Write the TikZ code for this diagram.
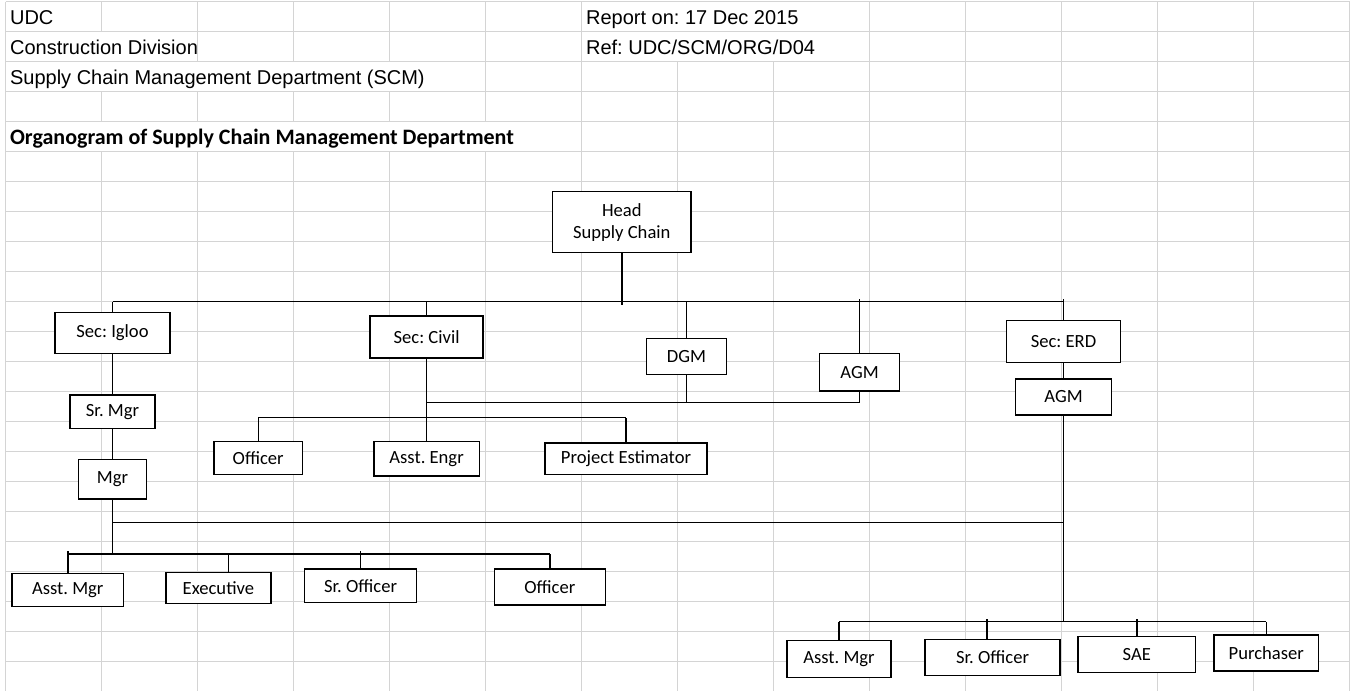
\documentclass[tikz,border=0pt]{standalone}
\usepackage{fontspec}
\setmainfont{Liberation Sans}
\newfontfamily\calibri{Carlito}
\usepackage{tikz}
\frenchspacing
\definecolor{colorGrid}{RGB}{212,212,212}
\tikzstyle{sheet}=[draw=colorGrid, line width=0.75pt]
\tikzstyle{cell}=[inner sep=0pt, anchor=base west, font=\fontsize{10}{12}\selectfont]
\tikzstyle{post}=[draw, line width=0.7pt, fill=white, inner sep=1pt, align=center, font=\calibri\fontsize{9.3}{11}\selectfont]
\tikzstyle{wire}=[line width=0.7pt]
\tikzstyle{poke}=[shorten >=-1.5pt]
\tikzset{boxwh/.style 2 args={minimum width=#1*0.5pt, minimum height=#2*0.5pt}}

\begin{document}
\begin{tikzpicture}[x=0.5pt,y=-0.5pt]
\useasboundingbox (0,0) rectangle (1354,691);

% sheet grid
\foreach \r in {0,...,22}
  \draw[sheet] (5.7,{1.7+30*\r}) -- (1349.7,{1.7+30*\r});
\foreach \c in {0,6,9,10,11,12,13,14}
  \draw[sheet] ({5.7+96*\c},1.7) -- ({5.7+96*\c},691);
\foreach \c in {1,2,3,4,5,7,8}
  \draw[sheet] ({5.7+96*\c},151.7) -- ({5.7+96*\c},691);
% cells that the header text does not cover
\foreach \c/\r in {1/0,1/3,2/0,2/1,2/3,3/0,3/1,3/3,4/0,4/1,4/3,5/0,5/1,5/2,5/3,7/2,7/3,7/4,8/2,8/3,8/4}
  \draw[sheet] ({5.7+96*\c},{1.7+30*\r}) -- ({5.7+96*\c},{31.7+30*\r});

% header
\node[cell] (udc) at (9.7,24.2) {UDC};
\node[cell] (division) at (9.7,54.2) {Construction Division};
\node[cell] (department) at (9.7,84.2) {Supply Chain Management Department (SCM)};
\node[cell, font=\calibri\bfseries\fontsize{11}{13}\selectfont] (title) at (9.7,144.2) {Organogram of Supply Chain Management Department};
\node[cell] (report) at (585.7,24.2) {Report on: 17 Dec 2015};
\node[cell] (ref) at (585.7,54.2) {Ref: UDC/SCM/ORG/D04};

% boxes
\node[post, boxwh={138.5}{61}] (head) at (621.8,222.2) {Head\\Supply Chain};
\node[post, boxwh={115}{40.6}] (secIgloo) at (112.5,333) {Sec: Igloo};
\node[post, boxwh={113}{42}] (secCivil) at (426.6,337) {Sec: Civil};
\node[post, boxwh={80}{36}] (dgm) at (686.5,356.4) {DGM};
\node[post, boxwh={80}{37.6}] (agmCivil) at (859.5,372.2) {AGM};
\node[post, boxwh={114}{41.7}] (secErd) at (1063.5,341.5) {Sec: ERD};
\node[post, boxwh={96.5}{36}] (agmErd) at (1063.5,397) {AGM};
\node[post, boxwh={85.3}{33.4}] (srMgr) at (112.5,411.7) {Sr. Mgr};
\node[post, boxwh={68}{39.6}] (mgr) at (112.5,479.2) {Mgr};
\node[post, boxwh={88.5}{32.7}] (officerCivil) at (258.2,458) {Officer};
\node[post, boxwh={105.3}{34.3}] (asstEngr) at (426.6,458.8) {Asst. Engr};
\node[post, boxwh={162}{31.4}] (projEst) at (626,458.7) {Project Estimator};
\node[post, boxwh={111.6}{33.3}] (asstMgrIg) at (67.8,590) {Asst. Mgr};
\node[post, boxwh={104.8}{31.3}] (exec) at (218.4,588) {Executive};
\node[post, boxwh={112.5}{33.4}] (srOffIg) at (360.5,585.7) {Sr. Officer};
\node[post, boxwh={111}{36}] (offIg) at (549.8,587) {Officer};
\node[post, boxwh={104}{36.7}] (asstMgrErd) at (839,659) {Asst. Mgr};
\node[post, boxwh={135}{36.3}] (srOffErd) at (992.5,657.5) {Sr. Officer};
\node[post, boxwh={117.6}{36}] (sae) at (1136.8,654.7) {SAE};
\node[post, boxwh={104.5}{36}] (purchaser) at (1266.3,653) {Purchaser};

% buses
\coordinate (topBus) at (0,301.7);
\coordinate (civBus) at (0,402.7);
\coordinate (engBus) at (0,417.7);
\coordinate (linkBus) at (0,522.7);
\coordinate (igBus) at (0,554);
\coordinate (erdBus) at (0,621.5);

% top level
\draw[wire, poke] (head) -- (head |- topBus);
\draw[wire] (secIgloo |- topBus) -- (secErd |- topBus);
\draw[wire] (secIgloo) -- (secIgloo |- topBus);
\draw[wire] (secCivil) -- (secCivil |- topBus);
\draw[wire] (dgm) -- (dgm |- topBus);
\draw[wire, poke] (agmCivil) -- (agmCivil |- topBus);
\draw[wire, poke] (secErd) -- (secErd |- topBus);

% civil
\draw[wire] (secCivil) -- (asstEngr);
\draw[wire] (secCivil |- civBus) -- (agmCivil |- civBus);
\draw[wire] (dgm) -- (dgm |- civBus);
\draw[wire] (agmCivil) -- (agmCivil |- civBus);
\draw[wire] (officerCivil |- engBus) -- (projEst |- engBus);
\draw[wire] (officerCivil) -- (officerCivil |- engBus);
\draw[wire] (projEst) -- (projEst |- engBus);

% igloo
\draw[wire] (secIgloo) -- (srMgr);
\draw[wire] (srMgr) -- (mgr);
\draw[wire] (mgr) -- (mgr |- igBus);
\draw[wire] (mgr |- linkBus) -- (agmErd |- linkBus);
\draw[wire] (asstMgrIg |- igBus) -- (offIg |- igBus);
\draw[wire, poke] (asstMgrIg) -- (asstMgrIg |- igBus);
\draw[wire] ([xshift=5pt]exec.north) -- ([xshift=5pt]exec.north |- igBus);
\draw[wire, poke] (srOffIg) -- (srOffIg |- igBus);
\draw[wire] (offIg) -- (offIg |- igBus);

% erd
\draw[wire] (secErd) -- (agmErd);
\draw[wire] (agmErd) -- (agmErd |- erdBus);
\draw[wire] (asstMgrErd |- erdBus) -- (purchaser |- erdBus);
\draw[wire] (asstMgrErd) -- (asstMgrErd |- erdBus);
\draw[wire, poke] ([xshift=-2.75pt]srOffErd.north) -- ([xshift=-2.75pt]srOffErd.north |- erdBus);
\draw[wire, poke] (sae) -- (sae |- erdBus);
\draw[wire] (purchaser) -- (purchaser |- erdBus);

\end{tikzpicture}
\end{document}
